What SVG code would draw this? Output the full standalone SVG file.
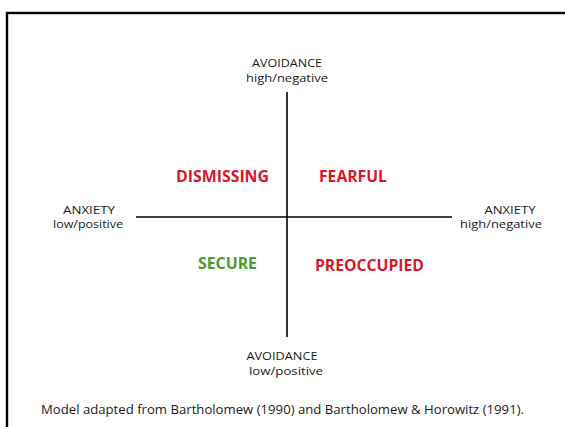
<svg xmlns="http://www.w3.org/2000/svg" width="565" height="427" viewBox="0 0 565 427">
<style>
.lbl{font-family:"Open Sans","Liberation Sans",sans-serif;font-size:11px;fill:#1a1a1a;}
.q{font-family:"Open Sans","Liberation Sans",sans-serif;font-size:16px;font-weight:bold;}
.red{fill:#d8172c;}
.green{fill:#4d9b2c;}
.ax{stroke:#000;stroke-width:1.6;fill:none;}
</style>
<rect x="0" y="0" width="565" height="427" fill="#fff"/>
<rect x="7" y="13" width="580" height="440" fill="none" stroke="#000" stroke-width="2.4"/>
<g id="connectors">
<line class="ax" x1="287" y1="92" x2="287" y2="337"/>
<line class="ax" x1="136" y1="217" x2="452" y2="217"/>
</g>
<g id="avoidance-high">
<text class="lbl" x="287" y="67" text-anchor="middle" textLength="70" lengthAdjust="spacingAndGlyphs">AVOIDANCE</text>
<text class="lbl" x="287" y="81.5" text-anchor="middle" textLength="82" lengthAdjust="spacingAndGlyphs">high/negative</text>
</g>
<g id="avoidance-low">
<text class="lbl" x="282" y="360" text-anchor="middle" textLength="71" lengthAdjust="spacingAndGlyphs">AVOIDANCE</text>
<text class="lbl" x="286" y="374.5" text-anchor="middle" textLength="74" lengthAdjust="spacingAndGlyphs">low/positive</text>
</g>
<g id="anxiety-low">
<text class="lbl" x="89" y="213.5" text-anchor="middle" textLength="52" lengthAdjust="spacingAndGlyphs">ANXIETY</text>
<text class="lbl" x="88" y="228" text-anchor="middle" textLength="70" lengthAdjust="spacingAndGlyphs">low/positive</text>
</g>
<g id="anxiety-high">
<text class="lbl" x="510" y="213.5" text-anchor="middle" textLength="51" lengthAdjust="spacingAndGlyphs">ANXIETY</text>
<text class="lbl" x="501" y="228" text-anchor="middle" textLength="82" lengthAdjust="spacingAndGlyphs">high/negative</text>
</g>
<g id="dismissing">
<text class="q red" x="176" y="182" textLength="93" lengthAdjust="spacingAndGlyphs">DISMISSING</text>
</g>
<g id="fearful">
<text class="q red" x="319" y="182" textLength="68" lengthAdjust="spacingAndGlyphs">FEARFUL</text>
</g>
<g id="secure">
<text class="q green" x="198" y="269" textLength="59" lengthAdjust="spacingAndGlyphs">SECURE</text>
</g>
<g id="preoccupied">
<text class="q red" x="315" y="271" textLength="109" lengthAdjust="spacingAndGlyphs">PREOCCUPIED</text>
</g>
<g id="caption">
<text class="lbl" x="41" y="414" textLength="483" lengthAdjust="spacingAndGlyphs" style="font-size:12px">Model adapted from Bartholomew (1990) and Bartholomew &amp; Horowitz (1991).</text>
</g>
</svg>
